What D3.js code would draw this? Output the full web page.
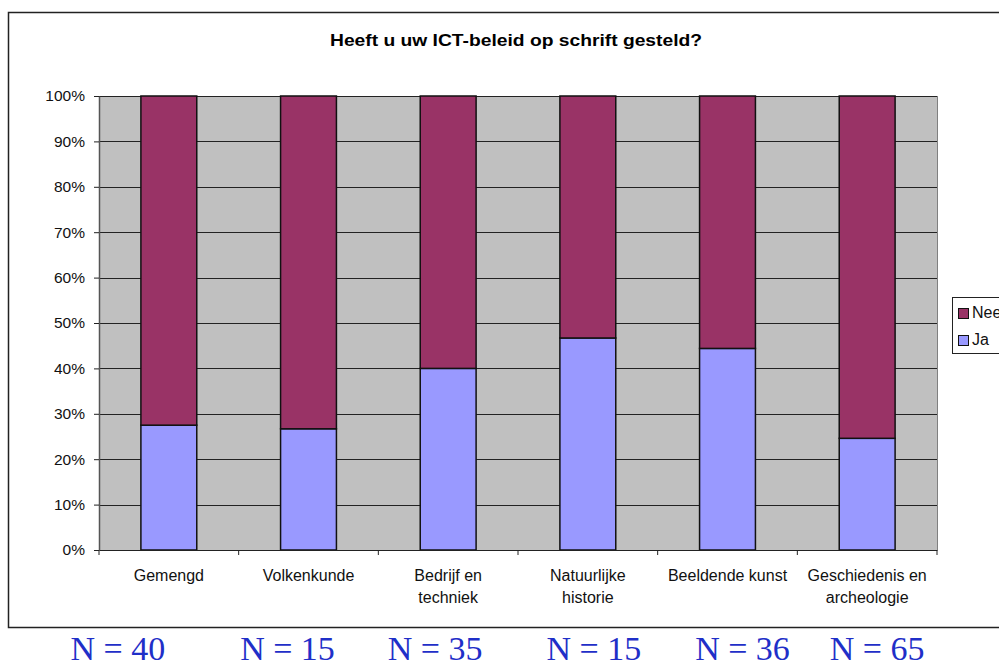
<!DOCTYPE html>
<html>
<head>
<meta charset="utf-8">
<script src="https://cdn.jsdelivr.net/npm/d3@7"></script>
<style>
  body { margin: 0; background: #fff; }
  svg { display: block; font-family: "Liberation Sans", Arial, sans-serif; }
</style>
</head>
<body>
<div id="chart-area"></div>
<script>
const categories = ["Gemengd", "Volkenkunde", "Bedrijf en techniek", "Natuurlijke historie", "Beeldende kunst", "Geschiedenis en archeologie"];
const labelLines = [["Gemengd"], ["Volkenkunde"], ["Bedrijf en", "techniek"], ["Natuurlijke", "historie"], ["Beeldende kunst"], ["Geschiedenis en", "archeologie"]];
const jaValues = [27.5, 26.7, 40.0, 46.7, 44.4, 24.6];
const neeValues = [72.5, 73.3, 60.0, 53.3, 55.6, 75.4];
const nCounts = [40, 15, 35, 15, 36, 65];
const yTicks = [0, 10, 20, 30, 40, 50, 60, 70, 80, 90, 100];
const seriesNames = ["Nee", "Ja"];
const colors = { Nee: "#993366", Ja: "#9999FF" };

// N = .. boxes sit a bit off the bar centres in the original slide
const nShift = [-51, -21, -13, 6, 15, 10];

const W = 999, H = 664;
const margin = { left: 99, top: 96, right: 62, bottom: 114 };
const plotW = 937 - margin.left;
const plotH = 550 - margin.top;

const svg = d3.select("#chart-area").append("svg").attr("width", W).attr("height", H);

// chart frame
svg.append("rect").attr("x", 8.5).attr("y", 12.5).attr("width", 1000).attr("height", 615)
    .attr("fill", "white").attr("stroke", "#222").attr("stroke-width", 1.5);

svg.append("text").attr("x", 516).attr("y", 46)
    .attr("text-anchor", "middle").attr("font-size", "17px").attr("font-weight", "bold")
    .attr("textLength", 372).attr("lengthAdjust", "spacingAndGlyphs")
    .text("Heeft u uw ICT-beleid op schrift gesteld?");

const group = svg.append("g").attr("transform", `translate(${margin.left},${margin.top})`);

const x = d3.scaleBand().domain(categories).range([0, plotW]).paddingInner(0.6).paddingOuter(0.3);
const y = d3.scaleLinear().domain([0, 100]).range([plotH, 0]);

group.append("rect").attr("width", plotW).attr("height", plotH).attr("fill", "#C0C0C0");

group.selectAll("line.grid").data(yTicks.slice(1)).enter().append("line")
    .attr("class", "grid")
    .attr("x1", 0).attr("x2", plotW)
    .attr("y1", d => Math.round(y(d)) + 0.5).attr("y2", d => Math.round(y(d)) + 0.5)
    .attr("stroke", "#222").attr("stroke-width", 1);

group.append("line").attr("x1", plotW + 0.5).attr("x2", plotW + 0.5).attr("y1", 0).attr("y2", plotH)
    .attr("stroke", "#808080");

const rows = categories.map((c, i) => ({ cat: c, Ja: jaValues[i], Nee: neeValues[i] }));
const stack = d3.stack().keys(["Ja", "Nee"])(rows);

group.selectAll("g.series").data(stack).enter().append("g")
    .attr("class", "series")
    .attr("fill", d => colors[d.key])
    .selectAll("rect").data(d => d).enter().append("rect")
    .attr("x", d => x(d.data.cat))
    .attr("y", d => y(d[1]))
    .attr("width", x.bandwidth())
    .attr("height", d => y(d[0]) - y(d[1]))
    .attr("stroke", "#111").attr("stroke-width", 1.5);

const yAxis = group.append("g").call(d3.axisLeft(y).tickValues(yTicks).tickFormat(d => d + "%").tickSize(5).tickSizeOuter(0));
yAxis.select(".domain").attr("stroke", "#555").attr("stroke-width", 1.5);
yAxis.selectAll(".tick line").attr("stroke", "#222");
yAxis.selectAll("text").attr("font-size", "15.5px").attr("fill", "#111").attr("x", -14)
    .attr("font-family", "Liberation Sans, Arial, sans-serif");

const xAxis = group.append("g").attr("transform", `translate(0,${plotH})`)
    .call(d3.axisBottom(x).tickValues([]).tickSizeOuter(0));
xAxis.select(".domain").attr("stroke", "#222");

// category separators below axis
const sepPos = d3.range(categories.length + 1).map(i => i * plotW / categories.length);
xAxis.selectAll("line.sep").data(sepPos).enter().append("line")
    .attr("class", "sep").attr("x1", d => d).attr("x2", d => d).attr("y1", 0).attr("y2", 5)
    .attr("stroke", "#222");

const catLabels = xAxis.selectAll("text.cat").data(categories).enter().append("text")
    .attr("class", "cat")
    .attr("text-anchor", "middle")
    .attr("font-size", "16px").attr("fill", "#111")
    .attr("font-family", "Liberation Sans, Arial, sans-serif")
    .attr("transform", d => `translate(${x(d) + x.bandwidth() / 2},31)`);
catLabels.selectAll("tspan").data((d, i) => labelLines[i]).enter().append("tspan")
    .attr("x", 0).attr("dy", (d, i) => i === 0 ? 0 : 22).text(d => d);

// legend
const legend = svg.append("g").attr("transform", "translate(952,297)");
legend.append("rect").attr("x", 0.5).attr("y", 0.5).attr("width", 60).attr("height", 56)
    .attr("fill", "white").attr("stroke", "#222");
seriesNames.forEach((s, i) => {
    const row = legend.append("g").attr("transform", `translate(6,${11 + i * 27})`);
    row.append("rect").attr("x", 0.5).attr("y", 0.5).attr("width", 10).attr("height", 10)
        .attr("fill", colors[s]).attr("stroke", "#111");
    row.append("text").attr("x", 14).attr("y", 10).attr("font-size", "16px").attr("fill", "#111").text(s);
});

// N counts under the chart
svg.selectAll("text.n").data(nCounts).enter().append("text")
    .attr("class", "n")
    .attr("x", (d, i) => margin.left + x(categories[i]) + x.bandwidth() / 2 + nShift[i])
    .attr("y", 660)
    .attr("text-anchor", "middle")
    .attr("font-family", "Liberation Serif, Times New Roman, serif")
    .attr("font-size", "34px")
    .attr("fill", "#1f2fc8")
    .text(d => `N = ${d}`);
</script>
</body>
</html>
